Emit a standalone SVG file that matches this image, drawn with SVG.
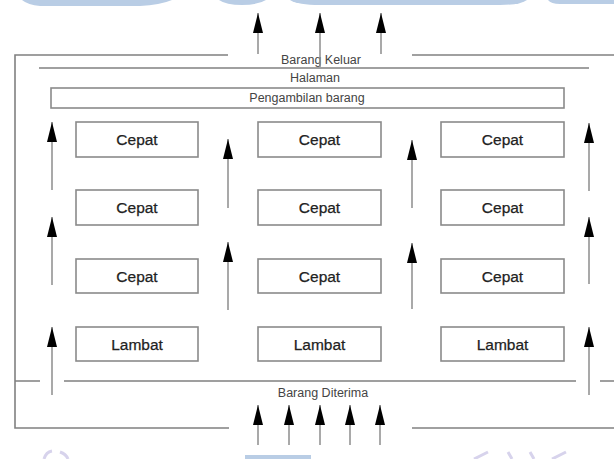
<svg xmlns="http://www.w3.org/2000/svg" width="614" height="459" viewBox="0 0 614 459">
<style>
.box{fill:#fff;stroke:#8a8a8a;stroke-width:1.6}
.ln{stroke:#808080;stroke-width:1.6;fill:none}
.ar{stroke:#8c8c8c;stroke-width:1.5;fill:none;marker-end:url(#ah)}
.big{font-family:"Liberation Sans",Arial,sans-serif;font-size:15.5px;fill:#222;stroke:#222;stroke-width:0.25;text-anchor:middle}
.sm{font-family:"Liberation Sans",Arial,sans-serif;font-size:12.5px;fill:#444;text-anchor:middle}
.wm{fill:#b9cde5}
.wm2{fill:none;stroke:#d7d3ec;stroke-width:3}
</style>
<defs>
<marker id="ah" markerUnits="userSpaceOnUse" viewBox="0 -6 21 12" markerWidth="21" markerHeight="12" refX="20" refY="0" orient="auto">
<path d="M0,-5 L20,0 L0,5 Z" fill="#000"/>
</marker>
</defs>
<rect width="614" height="459" fill="#fff"/>
<g id="watermark">
<path class="wm" d="M22,0 H172 Q160,5 140,6 H40 Q28,5 22,0 Z"/>
<path class="wm" d="M219,0 H266 Q258,5 242,5 Q226,5 219,0 Z"/>
<path class="wm" d="M290,0 H527 Q520,5 500,5 H320 Q298,5 290,0 Z"/>
<path class="wm" d="M548,0 H614 V4 H560 Q551,4 548,0 Z"/>
<rect class="wm" x="245" y="455" width="66" height="4"/>
<path class="wm2" d="M44,459 Q46,452 52,451 M60,452 Q66,454 68,459"/>
<path class="wm2" d="M474,459 L488,452 M508,452 L512,459 M530,452 L534,459 M552,459 L566,452"/>
</g>
<g id="frame">
<path class="ln" d="M228,55 H15 V428 H229"/>
<path class="ln" d="M412,55 H614"/>
<path class="ln" d="M412,428 H614"/>
<path class="ln" d="M39,68 H589"/>
<path class="ln" d="M15,381 H40 M64,381 H576 M600,381 H614"/>
</g>
<g id="labels">
<text class="sm" x="321" y="64">Barang Keluar</text>
<text class="sm" x="315" y="82">Halaman</text>
<text class="sm" x="323" y="397">Barang Diterima</text>
</g>
<g id="pengambilan">
<rect class="box" x="51" y="88" width="513" height="20"/>
<text class="sm" x="307" y="102">Pengambilan barang</text>
</g>
<g id="r1c1"><rect class="box" x="76" y="122" width="122" height="35"/><text class="big" x="137" y="145">Cepat</text></g>
<g id="r1c2"><rect class="box" x="258" y="122" width="123" height="35"/><text class="big" x="319.5" y="145">Cepat</text></g>
<g id="r1c3"><rect class="box" x="441" y="122" width="123" height="35"/><text class="big" x="502.5" y="145">Cepat</text></g>
<g id="r2c1"><rect class="box" x="76" y="190" width="122" height="35"/><text class="big" x="137" y="213">Cepat</text></g>
<g id="r2c2"><rect class="box" x="258" y="190" width="123" height="35"/><text class="big" x="319.5" y="213">Cepat</text></g>
<g id="r2c3"><rect class="box" x="441" y="190" width="123" height="35"/><text class="big" x="502.5" y="213">Cepat</text></g>
<g id="r3c1"><rect class="box" x="76" y="259" width="122" height="34"/><text class="big" x="137" y="282">Cepat</text></g>
<g id="r3c2"><rect class="box" x="258" y="259" width="123" height="34"/><text class="big" x="319.5" y="282">Cepat</text></g>
<g id="r3c3"><rect class="box" x="441" y="259" width="123" height="34"/><text class="big" x="502.5" y="282">Cepat</text></g>
<g id="r4c1"><rect class="box" x="76" y="327" width="122" height="34"/><text class="big" x="137" y="350">Lambat</text></g>
<g id="r4c2"><rect class="box" x="258" y="327" width="123" height="34"/><text class="big" x="319.5" y="350">Lambat</text></g>
<g id="r4c3"><rect class="box" x="441" y="327" width="123" height="34"/><text class="big" x="502.5" y="350">Lambat</text></g>
<g id="connectors">
<line class="ar" x1="258" y1="54" x2="258" y2="13"/>
<line class="ar" x1="320" y1="67" x2="320" y2="13"/>
<line class="ar" x1="381" y1="54" x2="381" y2="13"/>
<line class="ar" x1="52" y1="190" x2="52" y2="122"/>
<line class="ar" x1="52" y1="285" x2="52" y2="217"/>
<line class="ar" x1="52" y1="395" x2="52" y2="327"/>
<line class="ar" x1="228" y1="208" x2="228" y2="139"/>
<line class="ar" x1="228" y1="310" x2="228" y2="242"/>
<line class="ar" x1="412" y1="208" x2="412" y2="140"/>
<line class="ar" x1="412" y1="309" x2="412" y2="243"/>
<line class="ar" x1="589" y1="191" x2="589" y2="123"/>
<line class="ar" x1="589" y1="284" x2="589" y2="217"/>
<line class="ar" x1="589" y1="395" x2="589" y2="327"/>
<line class="ar" x1="258" y1="445" x2="258" y2="405"/>
<line class="ar" x1="289" y1="445" x2="289" y2="405"/>
<line class="ar" x1="320" y1="445" x2="320" y2="405"/>
<line class="ar" x1="350" y1="445" x2="350" y2="405"/>
<line class="ar" x1="380" y1="445" x2="380" y2="405"/>
</g>
</svg>
